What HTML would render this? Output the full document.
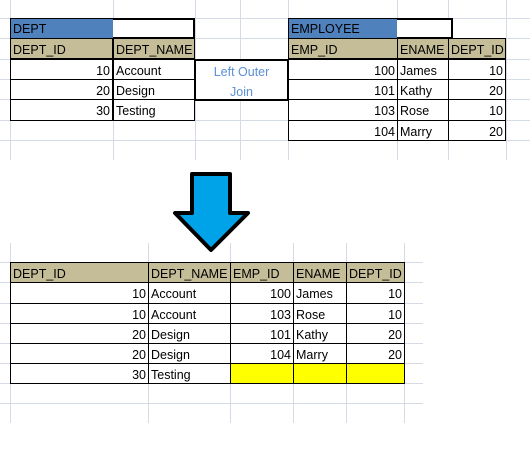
<!DOCTYPE html>
<html><head><style>
body{margin:0;width:530px;height:466px;background:#fff;position:relative;overflow:hidden;font-family:"Liberation Sans",sans-serif;font-size:12.5px;color:#000}
.c{position:absolute;box-sizing:border-box;line-height:22px;white-space:nowrap;padding:0 2px}
.r{text-align:right}
.g{position:absolute;background:#d4dae6}
</style></head><body>
<div class="g" style="left:0;top:18px;width:530px;height:1px"></div>
<div class="g" style="left:0;top:38px;width:530px;height:1px"></div>
<div class="g" style="left:0;top:59px;width:530px;height:1px"></div>
<div class="g" style="left:0;top:79px;width:530px;height:1px"></div>
<div class="g" style="left:0;top:99px;width:530px;height:1px"></div>
<div class="g" style="left:0;top:120px;width:530px;height:1px"></div>
<div class="g" style="left:0;top:140px;width:530px;height:1px"></div>
<div class="g" style="left:10px;top:0;width:1px;height:160px"></div>
<div class="g" style="left:113px;top:0;width:1px;height:160px"></div>
<div class="g" style="left:195px;top:0;width:1px;height:160px"></div>
<div class="g" style="left:240px;top:0;width:1px;height:160px"></div>
<div class="g" style="left:288px;top:0;width:1px;height:160px"></div>
<div class="g" style="left:397px;top:0;width:1px;height:160px"></div>
<div class="g" style="left:448px;top:0;width:1px;height:160px"></div>
<div class="g" style="left:506px;top:0;width:1px;height:160px"></div>
<div class="g" style="left:0;top:262px;width:423px;height:1px"></div>
<div class="g" style="left:0;top:383px;width:423px;height:1px"></div>
<div class="g" style="left:0;top:403px;width:423px;height:1px"></div>
<div class="g" style="left:0;top:282px;width:423px;height:1px"></div>
<div class="g" style="left:0;top:303px;width:423px;height:1px"></div>
<div class="g" style="left:0;top:323px;width:423px;height:1px"></div>
<div class="g" style="left:0;top:343px;width:423px;height:1px"></div>
<div class="g" style="left:0;top:363px;width:423px;height:1px"></div>
<div class="g" style="left:10px;top:243px;width:1px;height:180px"></div>
<div class="g" style="left:148px;top:243px;width:1px;height:180px"></div>
<div class="g" style="left:230px;top:243px;width:1px;height:180px"></div>
<div class="g" style="left:293px;top:243px;width:1px;height:180px"></div>
<div class="g" style="left:346px;top:243px;width:1px;height:180px"></div>
<div class="g" style="left:404px;top:243px;width:1px;height:180px"></div>

<div class="c" style="left:10px;top:18px;width:185px;height:21px;border:2px solid #000;background:#fff"></div>
<div class="c" style="left:11px;top:19px;width:102px;height:19px;background:#4f81bd;line-height:21px">DEPT</div>
<div class="c" style="left:10px;top:38px;width:103px;height:21px;background:#c4bd97;border:1px solid #000">DEPT_ID</div>
<div class="c" style="left:113px;top:38px;width:82px;height:21px;background:#c4bd97;border:1px solid #000">DEPT_NAME</div>
<div class="c r" style="left:10px;top:59px;width:103px;height:21px;border:1px solid #000">10</div>
<div class="c" style="left:113px;top:59px;width:82px;height:21px;border:1px solid #000">Account</div>
<div class="c r" style="left:10px;top:79px;width:103px;height:21px;border:1px solid #000">20</div>
<div class="c" style="left:113px;top:79px;width:82px;height:21px;border:1px solid #000">Design</div>
<div class="c r" style="left:10px;top:99px;width:103px;height:22px;border:1px solid #000">30</div>
<div class="c" style="left:113px;top:99px;width:82px;height:22px;border:1px solid #000">Testing</div>
<div class="c" style="left:194px;top:59px;width:95px;height:42px;border:2px solid #000;background:#fff;color:#5b8fd6;text-align:center;line-height:20px;padding-top:1px;white-space:normal">Left Outer<br>Join</div>
<div class="c" style="left:288px;top:18px;width:165px;height:21px;border:2px solid #000;background:#fff"></div>
<div class="c" style="left:289px;top:19px;width:108px;height:19px;background:#4f81bd;line-height:21px">EMPLOYEE</div>
<div class="c" style="left:288px;top:38px;width:110px;height:21px;background:#c4bd97;border:1px solid #000">EMP_ID</div>
<div class="c" style="left:397px;top:38px;width:52px;height:21px;background:#c4bd97;border:1px solid #000">ENAME</div>
<div class="c" style="left:448px;top:38px;width:58px;height:21px;background:#c4bd97;border:1px solid #000">DEPT_ID</div>
<div class="c r" style="left:288px;top:59px;width:110px;height:21px;border:1px solid #000">100</div><div class="c" style="left:397px;top:59px;width:52px;height:21px;border:1px solid #000">James</div><div class="c r" style="left:448px;top:59px;width:58px;height:21px;border:1px solid #000">10</div>
<div class="c r" style="left:288px;top:79px;width:110px;height:21px;border:1px solid #000">101</div><div class="c" style="left:397px;top:79px;width:52px;height:21px;border:1px solid #000">Kathy</div><div class="c r" style="left:448px;top:79px;width:58px;height:21px;border:1px solid #000">20</div>
<div class="c r" style="left:288px;top:99px;width:110px;height:22px;border:1px solid #000">103</div><div class="c" style="left:397px;top:99px;width:52px;height:22px;border:1px solid #000">Rose</div><div class="c r" style="left:448px;top:99px;width:58px;height:22px;border:1px solid #000">10</div>
<div class="c r" style="left:288px;top:120px;width:110px;height:21px;border:1px solid #000">104</div><div class="c" style="left:397px;top:120px;width:52px;height:21px;border:1px solid #000">Marry</div><div class="c r" style="left:448px;top:120px;width:58px;height:21px;border:1px solid #000">20</div>

<svg style="position:absolute;left:0;top:0" width="530" height="466">
<polygon points="192,174 230,174 230,213 248,213 211,250 175,213 192,213" fill="#00a2e8" stroke="#000" stroke-width="4" stroke-linejoin="round"/>
</svg>

<div class="c" style="left:10px;top:262px;width:139px;height:21px;background:#c4bd97;border:1px solid #000">DEPT_ID</div>
<div class="c" style="left:148px;top:262px;width:83px;height:21px;background:#c4bd97;border:1px solid #000">DEPT_NAME</div>
<div class="c" style="left:230px;top:262px;width:64px;height:21px;background:#c4bd97;border:1px solid #000">EMP_ID</div>
<div class="c" style="left:293px;top:262px;width:54px;height:21px;background:#c4bd97;border:1px solid #000">ENAME</div>
<div class="c" style="left:346px;top:262px;width:59px;height:21px;background:#c4bd97;border:1px solid #000">DEPT_ID</div>

<div class="c r" style="left:10px;top:282px;width:139px;height:22px;border:1px solid #000">10</div><div class="c" style="left:148px;top:282px;width:83px;height:22px;border:1px solid #000">Account</div><div class="c r" style="left:230px;top:282px;width:64px;height:22px;border:1px solid #000">100</div><div class="c" style="left:293px;top:282px;width:54px;height:22px;border:1px solid #000">James</div><div class="c r" style="left:346px;top:282px;width:59px;height:22px;border:1px solid #000">10</div>
<div class="c r" style="left:10px;top:303px;width:139px;height:21px;border:1px solid #000">10</div><div class="c" style="left:148px;top:303px;width:83px;height:21px;border:1px solid #000">Account</div><div class="c r" style="left:230px;top:303px;width:64px;height:21px;border:1px solid #000">103</div><div class="c" style="left:293px;top:303px;width:54px;height:21px;border:1px solid #000">Rose</div><div class="c r" style="left:346px;top:303px;width:59px;height:21px;border:1px solid #000">10</div>
<div class="c r" style="left:10px;top:323px;width:139px;height:21px;border:1px solid #000">20</div><div class="c" style="left:148px;top:323px;width:83px;height:21px;border:1px solid #000">Design</div><div class="c r" style="left:230px;top:323px;width:64px;height:21px;border:1px solid #000">101</div><div class="c" style="left:293px;top:323px;width:54px;height:21px;border:1px solid #000">Kathy</div><div class="c r" style="left:346px;top:323px;width:59px;height:21px;border:1px solid #000">20</div>
<div class="c r" style="left:10px;top:343px;width:139px;height:21px;border:1px solid #000">20</div><div class="c" style="left:148px;top:343px;width:83px;height:21px;border:1px solid #000">Design</div><div class="c r" style="left:230px;top:343px;width:64px;height:21px;border:1px solid #000">104</div><div class="c" style="left:293px;top:343px;width:54px;height:21px;border:1px solid #000">Marry</div><div class="c r" style="left:346px;top:343px;width:59px;height:21px;border:1px solid #000">20</div>
<div class="c r" style="left:10px;top:363px;width:139px;height:21px;border:1px solid #000">30</div><div class="c" style="left:148px;top:363px;width:83px;height:21px;border:1px solid #000">Testing</div><div class="c" style="left:230px;top:363px;width:64px;height:21px;border:1px solid #000;background:#ffff00"></div><div class="c" style="left:293px;top:363px;width:54px;height:21px;border:1px solid #000;background:#ffff00"></div><div class="c" style="left:346px;top:363px;width:59px;height:21px;border:1px solid #000;background:#ffff00"></div>
</body></html>
